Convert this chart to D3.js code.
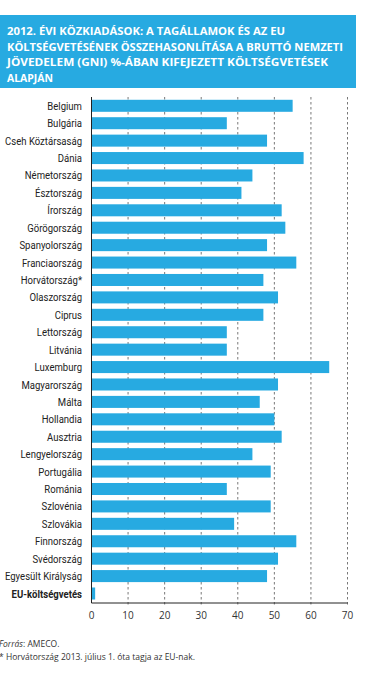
<!DOCTYPE html>
<html><head><meta charset="utf-8">
<script src="https://cdn.jsdelivr.net/npm/d3@7"></script>
<style>
body{margin:0;background:#fff;}
svg{display:block;}
</style></head>
<body>
<svg id="chart" width="379" height="683"></svg>
<script>
const titleLines = [
  "2012. ÉVI KÖZKIADÁSOK: A TAGÁLLAMOK ÉS AZ EU",
  "KÖLTSÉGVETÉSÉNEK ÖSSZEHASONLÍTÁSA A BRUTTÓ NEMZETI",
  "JÖVEDELEM (GNI) %-ÁBAN KIFEJEZETT KÖLTSÉGVETÉSEK",
  "ALAPJÁN"
];
const categories = ["Belgium","Bulgária","Cseh Köztársaság","Dánia","Németország","Észtország","Írország","Görögország","Spanyolország","Franciaország","Horvátország*","Olaszország","Ciprus","Lettország","Litvánia","Luxemburg","Magyarország","Málta","Hollandia","Ausztria","Lengyelország","Portugália","Románia","Szlovénia","Szlovákia","Finnország","Svédország","Egyesült Királyság","EU-költségvetés"];
const values = [55,37,48,58,44,41,52,53,48,56,47,51,47,37,37,65,51,46,50,52,44,49,37,49,39,56,51,48,1];
const ticks = [0,10,20,30,40,50,60,70];
const source = "AMECO.";
const footnote = "* Horvátország 2013. július 1. óta tagja az EU-nak.";

const svg = d3.select("#chart");
const blue = "#27aae1";

// title box
svg.append("rect").attr("x",0).attr("y",15).attr("width",356).attr("height",73).attr("fill",blue);
const lineWidths = [278, 336, 321, 46];
titleLines.forEach((t,i)=>{
  svg.append("text").attr("x",7).attr("y",35+i*15.5)
    .attr("font-family","Open Sans, sans-serif").attr("font-weight","bold")
    .attr("font-size",10.5).attr("fill","#fff")
    .attr("textLength",lineWidths[i]).attr("lengthAdjust","spacingAndGlyphs")
    .text(t);
});

const x = d3.scaleLinear().domain([0,70]).range([91.5,347.5]);
const y = d3.scaleBand().domain(categories).range([96.3,603]).paddingInner(0.31).paddingOuter(0.2);

// gridlines
svg.append("g").selectAll("line").data(ticks.slice(1)).join("line")
  .attr("x1",d=>x(d)).attr("x2",d=>x(d)).attr("y1",97).attr("y2",606)
  .attr("stroke","#555").attr("stroke-width",0.8).attr("stroke-dasharray","2.5,2.5");

// bars
svg.append("g").selectAll("rect").data(values).join("rect")
  .attr("x",x(0)).attr("y",(d,i)=>y(categories[i]))
  .attr("width",d=>x(d)-x(0)).attr("height",y.bandwidth())
  .attr("fill",blue);

// axis lines
svg.append("line").attr("x1",x(0)).attr("x2",x(0)).attr("y1",97).attr("y2",603).attr("stroke","#222").attr("stroke-width",1);
svg.append("line").attr("x1",x(0)).attr("x2",x(70)).attr("y1",603).attr("y2",603).attr("stroke","#222").attr("stroke-width",1);

// category labels (condensed horizontally)
const labelG = svg.append("g");
const labels = labelG.selectAll("text").data(categories).join("text")
  .attr("x",0).attr("y",d=>y(d)+y.bandwidth()/2).attr("dy","0.35em")
  .attr("text-anchor","end")
  .attr("font-family","Roboto, sans-serif")
  .attr("font-size",11.5).attr("fill","#222")
  .attr("font-weight",d=>d==="EU-költségvetés"?"bold":"normal")
  .text(d=>d);
const refNode = labels.filter(d=>d==="Cseh Köztársaság").node();
const sx = 77 / refNode.getComputedTextLength();
labelG.attr("transform",`translate(82,0) scale(${sx},1)`);

// tick labels
svg.append("g").selectAll("text").data(ticks).join("text")
  .attr("x",d=>x(d)).attr("y",619).attr("text-anchor","middle")
  .attr("font-family","Open Sans, sans-serif").attr("font-size",10).attr("fill","#333")
  .text(d=>d);

// footnotes
const f1 = svg.append("text").attr("x",-1).attr("y",647)
  .attr("font-family","Open Sans, sans-serif").attr("font-size",8.5).attr("fill","#333");
f1.append("tspan").attr("font-style","italic").text("Forrás");
f1.append("tspan").text(": " + source);
svg.append("text").attr("x",-1).attr("y",660)
  .attr("font-family","Open Sans, sans-serif").attr("font-size",8.5).attr("fill","#333")
  .text(footnote);
</script>
</body></html>
